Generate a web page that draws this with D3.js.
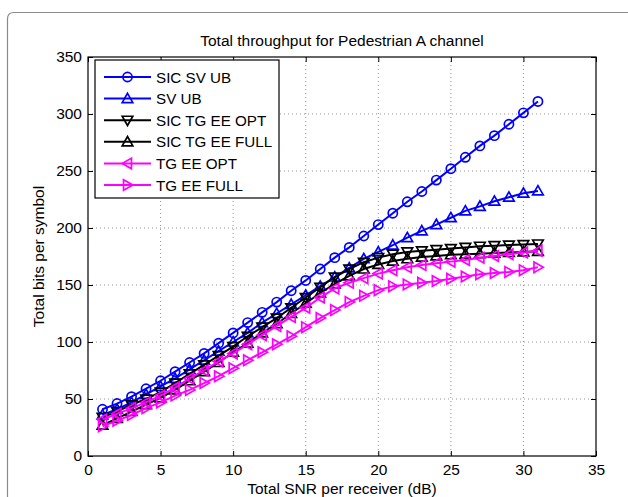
<!DOCTYPE html>
<html><head><meta charset="utf-8">
<script src="https://cdn.jsdelivr.net/npm/d3@7"></script>
<style>
body{margin:0;background:#fff;}
svg{display:block;font-family:"Liberation Sans",Arial,Helvetica,sans-serif;}
</style></head>
<body>
<svg id="chart" width="628" height="497"></svg>
<script>
const snr = d3.range(1, 32);
const sicSvUb = [41,46,52,59,66,74,82,90,99,108,117,126,135,145,154,164,174,183,193,203,213,223,232,242,252,262,272,281,291,301,311];
const svUb = [36,41,47,54,61,68,76,84,92,100,108,117,125,133,141,149,157,165,173,179,185,191.5,197.5,203,209,215,219,223.5,227,230.5,232.5];
const sicTgEeOpt = [34,39,45,50,56,64,72,80,88,96,105,113,121,130,139,148,157,164,170,174,177,179,180,181,182,183,184,184.5,185,185.5,186];
const sicTgEeFull = [27,33,39,45,51,58,66,74,82,91,99,108,116,125,134,143,151,158,164,168,171,173,174.5,175.5,176.5,177,177.5,178,178.5,179,179.5];
const tgEeOpt = [32,37,42,47,53,60,68,75,83,90,98,106,114,122,130,139,147,152,156,160,163,165.5,167.5,169,170.5,172,174,175.5,177,178.5,180];
const tgEeFull = [26,31,36,42,47,53,58,64,70,77,84,91,98,105,113,121,128,135,140.5,145.5,149,150.5,152,153.5,155.5,157.5,159.5,160.5,161.5,163,165.5];
const seriesNames = ["SIC SV UB","SV UB","SIC TG EE OPT","SIC TG EE FULL","TG EE OPT","TG EE FULL"];
const seriesValues = [sicSvUb, svUb, sicTgEeOpt, sicTgEeFull, tgEeOpt, tgEeFull];
const seriesColors = ["#0000ff","#0000ff","#000000","#000000","#ff00ff","#ff00ff"];
const seriesMarkers = ["circle","up","down","up","left","right"];
const xTicks = [0,5,10,15,20,25,30,35];
const yTicks = [0,50,100,150,200,250,300,350];
const titleText = "Total throughput for Pedestrian A channel";
const xLabel = "Total SNR per receiver (dB)";
const yLabel = "Total bits per symbol";

const svg = d3.select("#chart");
const L = 88, R = 596, T = 57, B = 456;
const FS = 15.5;
const x = d3.scaleLinear().domain([0,35]).range([L,R]);
const y = d3.scaleLinear().domain([0,350]).range([B,T]);

// outer frame
svg.append("path")
  .attr("d","M7.5,497 V19 Q7.5,12.5 14,12.5 H628")
  .attr("fill","none").attr("stroke","#8a8a8a").attr("stroke-width",1.2);

// grid
const g = svg.append("g");
g.selectAll(".vg").data(xTicks.slice(1,-1)).join("line")
  .attr("x1",d=>x(d)).attr("x2",d=>x(d)).attr("y1",T).attr("y2",B)
  .attr("stroke","#777").attr("stroke-width",0.8).attr("stroke-dasharray","1,3");
g.selectAll(".hg").data(yTicks.slice(1,-1)).join("line")
  .attr("y1",d=>y(d)).attr("y2",d=>y(d)).attr("x1",L).attr("x2",R)
  .attr("stroke","#777").attr("stroke-width",0.8).attr("stroke-dasharray","1,3");

// axes (inward ticks)
const fmt = d3.format("d");
const axB = svg.append("g").attr("transform",`translate(0,${B})`)
  .call(d3.axisBottom(x).tickValues(xTicks).tickSizeInner(-5).tickSizeOuter(0).tickPadding(8).tickFormat(fmt));
const axT = svg.append("g").attr("transform",`translate(0,${T})`)
  .call(d3.axisTop(x).tickValues(xTicks).tickSizeInner(-5).tickSizeOuter(0).tickFormat(""));
const axL = svg.append("g").attr("transform",`translate(${L},0)`)
  .call(d3.axisLeft(y).tickValues(yTicks).tickSizeInner(-5).tickSizeOuter(0).tickPadding(6).tickFormat(fmt));
const axR = svg.append("g").attr("transform",`translate(${R},0)`)
  .call(d3.axisRight(y).tickValues(yTicks).tickSizeInner(-5).tickSizeOuter(0).tickFormat(""));
[axB,axT,axL,axR].forEach(a=>{
  a.select(".domain").remove();
  a.selectAll("line").attr("stroke","#000");
  a.selectAll("text").attr("font-size",FS).attr("fill","#000").attr("font-family","Liberation Sans, Arial, sans-serif");
});
svg.append("rect").attr("x",L).attr("y",T).attr("width",R-L).attr("height",B-T)
  .attr("fill","none").attr("stroke","#000").attr("stroke-width",1.2);

// markers
function markerPath(type, s){
  const h = s;
  switch(type){
    case "up": return `M0,${-h} L${h},${h*0.75} L${-h},${h*0.75} Z`;
    case "down": return `M0,${h} L${h},${-h*0.75} L${-h},${-h*0.75} Z`;
    case "left": return `M${-h},0 L${h*0.75},${-h} L${h*0.75},${h} Z`;
    case "right": return `M${h},0 L${-h*0.75},${-h} L${-h*0.75},${h} Z`;
  }
}
function drawMarker(sel, type, color){
  if(type==="circle"){
    sel.append("circle").attr("r",4.6).attr("fill","none").attr("stroke",color).attr("stroke-width",1.7);
  } else {
    sel.append("path").attr("d",markerPath(type,5.3)).attr("fill","none").attr("stroke",color).attr("stroke-width",1.7).attr("stroke-linejoin","miter");
  }
}

const line = d3.line().x(d=>x(d[0])).y(d=>y(d[1]));
const plot = svg.append("g");
seriesValues.forEach((vals,i)=>{
  const pts = snr.map((s,k)=>[s, vals[k]]);
  plot.append("path").datum(pts).attr("d",line)
    .attr("fill","none").attr("stroke",seriesColors[i]).attr("stroke-width",2);
  pts.forEach(p=>{
    const m = plot.append("g").attr("transform",`translate(${x(p[0])},${y(p[1])})`);
    drawMarker(m, seriesMarkers[i], seriesColors[i]);
  });
});

// title & labels
svg.append("text").attr("x",(L+R)/2 - 0).attr("y",46).attr("text-anchor","middle")
  .attr("font-size",FS).text(titleText);
svg.append("text").attr("x",(L+R)/2).attr("y",494).attr("text-anchor","middle")
  .attr("font-size",FS).text(xLabel);
svg.append("text").attr("transform",`translate(44,${(T+B)/2}) rotate(-90)`).attr("text-anchor","middle")
  .attr("font-size",FS).text(yLabel);

// legend
const lg = svg.append("g");
lg.append("rect").attr("x",95).attr("y",60).attr("width",184).attr("height",138)
  .attr("fill","#fff").attr("stroke","#000").attr("stroke-width",1.2);
seriesNames.forEach((n,i)=>{
  const yy = 77 + i*21.6;
  lg.append("line").attr("x1",104).attr("x2",151).attr("y1",yy).attr("y2",yy)
    .attr("stroke",seriesColors[i]).attr("stroke-width",2);
  const m = lg.append("g").attr("transform",`translate(127.5,${yy})`);
  drawMarker(m, seriesMarkers[i], seriesColors[i]);
  lg.append("text").attr("x",156).attr("y",yy+5.5).attr("font-size",15.2).text(n);
});
</script>
</body></html>
